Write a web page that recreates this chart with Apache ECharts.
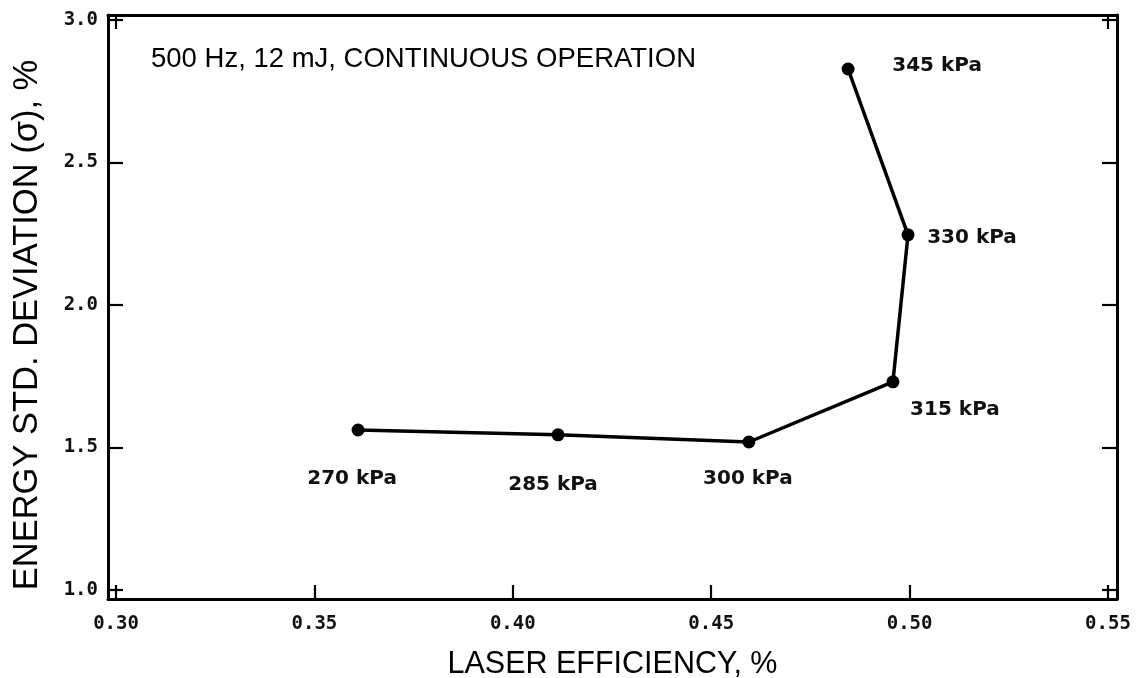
<!DOCTYPE html>
<html>
<head>
<meta charset="utf-8">
<script src="https://cdn.jsdelivr.net/npm/echarts@6/dist/echarts.min.js"></script>
<style>html,body{margin:0;padding:0;background:#fff;}#c{width:1138px;height:678px;}</style>
</head>
<body>
<div id="c"></div>
<script>
// ---- data ----
const pressures = ['270 kPa', '285 kPa', '300 kPa', '315 kPa', '330 kPa', '345 kPa'];
const efficiency = [0.361, 0.4114, 0.4595, 0.4958, 0.4996, 0.4845];
const stdDev = [1.561, 1.544, 1.519, 1.730, 2.246, 2.828];
const xTicks = [0.30, 0.35, 0.40, 0.45, 0.50, 0.55];
const yTicks = [1.0, 1.5, 2.0, 2.5, 3.0];
const annotation = '500 Hz, 12 mJ, CONTINUOUS OPERATION';
const xTitle = 'LASER EFFICIENCY, %';
const yTitle = 'ENERGY STD. DEVIATION (σ), %';

// ---- label placement (style only) ----
const labelOffsets = [[-6, 49], [-5, 50], [-1, 37], [62, 28], [64, 3], [89, -3]];

const chart = echarts.init(document.getElementById('c'), null, {renderer: 'canvas'});
const lineStyle = {color: '#000', width: 3};
const tickFont = {fontFamily: 'DejaVu Sans Mono', fontWeight: 'bold', fontSize: 19, color: '#111'};

const points = efficiency.map((x, i) => ({
  value: [x, stdDev[i]],
  name: pressures[i],
  label: {show: true, position: 'inside', offset: labelOffsets[i], formatter: pressures[i]}
}));

chart.setOption({
  animation: false,
  backgroundColor: '#fff',
  title: {
    text: annotation, left: 146, top: 40,
    textStyle: {fontFamily: 'Liberation Sans', fontWeight: 'normal', fontSize: 27.5, color: '#000'}
  },
  grid: {left: 108, right: 21, top: 15, bottom: 79, containLabel: false, outerBoundsMode: 'none'},
  xAxis: [{
    type: 'value', position: 'bottom', min: 0.29798, max: 0.55227,
    name: xTitle, nameLocation: 'middle', nameGap: 50,
    nameTextStyle: {fontFamily: 'Liberation Sans', fontSize: 30.5, color: '#000'},
    axisLine: {show: true, lineStyle: lineStyle},
    axisTick: {show: true, inside: true, length: 14, customValues: xTicks, lineStyle: {color: '#000', width: 2.2}},
    axisLabel: Object.assign({show: true, margin: 16, customValues: xTicks, formatter: v => v.toFixed(2)}, tickFont),
    splitLine: {show: false}
  }, {
    type: 'value', position: 'top', min: 0.29798, max: 0.55227,
    axisLine: {show: true, lineStyle: lineStyle},
    axisTick: {show: true, inside: true, length: 14, customValues: [xTicks[0], xTicks[xTicks.length - 1]], lineStyle: {color: '#000', width: 2.2}},
    axisLabel: {show: false},
    splitLine: {show: false}
  }],
  yAxis: [{
    type: 'value', position: 'left', min: 0.968, max: 3.0175,
    name: yTitle, nameLocation: 'middle', nameGap: 63, nameRotate: 90,
    nameTextStyle: {fontFamily: 'Liberation Sans', fontSize: 34.5, color: '#000', padding: [0, 36, 0, 0]},
    axisLine: {show: true, lineStyle: lineStyle},
    axisTick: {show: true, inside: true, length: 15, customValues: yTicks, lineStyle: {color: '#000', width: 2.2}},
    axisLabel: Object.assign({show: true, margin: 10, customValues: yTicks, formatter: v => v.toFixed(1)}, tickFont),
    splitLine: {show: false}
  }, {
    type: 'value', position: 'right', min: 0.968, max: 3.0175,
    axisLine: {show: true, lineStyle: lineStyle},
    axisTick: {show: true, inside: true, length: 15, customValues: yTicks, lineStyle: {color: '#000', width: 2.2}},
    axisLabel: {show: false},
    splitLine: {show: false}
  }],
  series: [{
    type: 'line',
    xAxisIndex: 0, yAxisIndex: 0,
    data: points,
    symbol: 'circle', symbolSize: 13,
    itemStyle: {color: '#000'},
    lineStyle: {color: '#000', width: 3.5},
    label: {fontFamily: 'DejaVu Sans', fontWeight: 'bold', fontSize: 20, color: '#111'}
  }]
});
</script>
</body>
</html>
